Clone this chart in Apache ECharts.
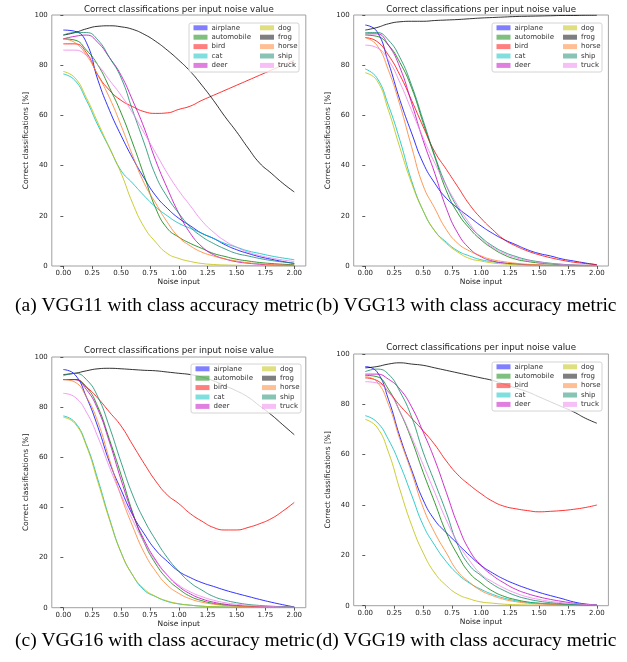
<!DOCTYPE html>
<html><head><meta charset="utf-8">
<script src="https://cdn.jsdelivr.net/npm/echarts@6/dist/echarts.min.js"></script>
<style>html,body{margin:0;padding:0;background:#fff}#c{width:627px;height:662px}</style>
</head><body><div id="c"></div>
<script>
// ---- data ----
const noise = [0,0.1,0.2,0.3,0.4,0.5,0.6,0.7,0.8,0.9,1.0,1.1,1.2,1.3,1.4,1.5,1.6,1.7,1.8,1.9,2.0];
const xTicks = [0,0.25,0.5,0.75,1.0,1.25,1.5,1.75,2.0];
const classes = ['airplane','automobile','bird','cat','deer','dog','frog','horse','ship','truck'];
const chartTitle = 'Correct classifications per input noise value';
const xName = 'Noise input';
const yName = 'Correct classifications [%]';
const captions = ['(a) VGG11 with class accuracy metric','(b) VGG13 with class accuracy metric','(c) VGG16 with class accuracy metric','(d) VGG19 with class accuracy metric'];

// VGG11
const vgg11_airplane   = [94,93.5,89,74,62,52,43,35,28,23,19,16,13,11,8.5,6.5,5,3.7,2.7,1.8,1];
const vgg11_automobile = [90.5,90,86,80,71,61,49,36,23,15,11.5,9,7,5,3.8,2.7,2,1.4,1,0.7,0.5];
const vgg11_bird       = [88.5,88.5,85,76,70,66,63.5,61.5,60.8,61,62.4,63.7,66,68,70,72,74,76,78,80,82];
const vgg11_cat        = [76.5,74,66,56,47,38,33,28,23.5,20,17,15,13,11,9,7.5,6,5,4,3.2,2.5];
const vgg11_deer       = [90.5,91.5,92,89,83,76,66,55,42,31,21,13,7.7,4.5,2.8,1.7,1.1,0.7,0.4,0.3,0.2];
const vgg11_dog        = [77.5,75,67,57,47,37,25,15.5,9.5,5,3,1.8,1,0.6,0.4,0.3,0.2,0.2,0.1,0.1,0.1];
const vgg11_frog       = [92,93,94.5,95.5,95.7,95.3,94.3,92.3,89.5,86,82,77.5,72,66,59.5,53.5,47,41,37,33,29.5];
const vgg11_horse      = [90.5,89,84,76,67,56,44,33,25,17.5,11.5,8,5.5,4,2.8,2,1.3,0.9,0.6,0.4,0.3];
const vgg11_ship       = [92,93,93,90,83,75,62,49,36,27.5,21,15.5,11.7,9,6.8,5,4,3,2.2,1.6,1.1];
const vgg11_truck      = [86,86,84,80,74,68,61,53,45,37,30,24,18,13.5,10,7.5,5.5,4.2,3.2,2.4,1.8];
// VGG13
const vgg13_airplane   = [96,93.5,81,66,53,41,33,27,23,19.5,16,13,10.5,8.5,6.5,5,4,2.8,2,1.2,0.5];
const vgg13_automobile = [92,91.5,88,81,71,57,43.5,30,21,15,10.4,7,4.4,2.7,1.8,1.2,0.8,0.5,0.3,0.2,0.2];
const vgg13_bird       = [91,89.5,84,76,66,55.5,45.5,38.5,31.5,24.5,19,14.5,10.5,8,6,4.5,3.3,2.3,1.5,1,0.5];
const vgg13_cat        = [78.5,75,64,50,34,22,14,9.5,6,4,2.5,1.7,1.1,0.8,0.5,0.4,0.3,0.2,0.2,0.1,0.1];
const vgg13_deer       = [92.5,92.5,88,79,65,50,37,23,13,7,3.7,2,1.2,0.8,0.5,0.3,0.2,0.2,0.1,0.1,0.1];
const vgg13_dog        = [77,74,62,47,33,22,14,9,5.5,3,2,1.2,0.8,0.5,0.3,0.2,0.2,0.1,0.1,0.1,0.1];
const vgg13_frog       = [94,95,96.5,97.3,97.5,97.5,97.8,98,98.2,98.5,98.8,99,99.2,99.4,99.5,99.6,99.7,99.8,99.8,99.9,99.9];
const vgg13_horse      = [91,88,78,64,47.5,32,23,14.5,9,6,4,2.5,1.7,1.1,0.7,0.5,0.3,0.2,0.2,0.1,0.1];
const vgg13_ship       = [93,93,90,83,72,58,44,32,23,16,11.5,8,5.5,3.8,2.5,1.7,1.1,0.7,0.4,0.3,0.2];
const vgg13_truck      = [88,87,82,73,62,51,41,32,24,17,11,7.5,5,3.3,2.2,1.5,1,0.6,0.4,0.3,0.2];
// VGG16
const vgg16_airplane   = [95,93,84,72,58,47,37,29.5,23,18.5,14.5,12,10,8.5,7,5.7,4.5,3.3,2.2,1.2,0.3];
const vgg16_automobile = [91,91,88,80,67,53,38,26,17.5,11.5,7.5,4.5,2.8,1.7,1.1,0.7,0.5,0.3,0.2,0.2,0.1];
const vgg16_bird       = [91,91,88,83.5,78,72.5,65,57.5,50.5,45,41.5,37.5,34.5,32,31,31,32,33.5,35.5,38.5,42];
const vgg16_cat        = [76.5,74,65,51,35.5,22,13,7,4.4,2.5,1.5,1,0.6,0.4,0.3,0.2,0.1,0.1,0.1,0.1,0.1];
const vgg16_deer       = [91,91,87,79,66,51,37.5,27,19,13,8.5,5.5,3.5,2.2,1.4,0.9,0.6,0.4,0.3,0.2,0.1];
const vgg16_dog        = [76,73.5,64.5,50,35,22,13,7.5,4.5,2.7,1.6,1,0.6,0.4,0.3,0.2,0.1,0.1,0.1,0.1,0.1];
const vgg16_frog       = [93,93.5,94.5,95.3,95.5,95.3,95,94.7,94.5,94,93.5,93,92,90.5,88.5,86.5,84,80.5,77,73,69];
const vgg16_horse      = [91,90,84,74,59,44.5,32.5,22,14.5,9,5.7,3.5,2.2,1.4,0.9,0.6,0.4,0.3,0.2,0.2,0.1];
const vgg16_ship       = [92.5,93.5,91,84,72,58,45,35,27,20,14.5,10,7,4.5,3,2,1.3,0.9,0.6,0.4,0.2];
const vgg16_truck      = [85.5,84,78,68,56,45,35,26,18.5,13,9,6.3,4.4,3,2,1.4,1,0.7,0.5,0.3,0.2];
// VGG19
const vgg19_airplane   = [95,93,82,67,54,42,34,29,24.5,20,16,13,10.5,8.5,6.8,5.3,4,2.8,1.5,0.7,0.3];
const vgg19_automobile = [91.5,91,86,77,66,53,41,29,20,13,9,5.8,3.7,2.4,1.5,1,0.7,0.5,0.3,0.2,0.2];
const vgg19_bird       = [90.5,89.5,85,79.5,74.5,69.5,64,57.5,52,48,44.5,41.5,39.5,38.5,37.8,37.3,37.5,37.8,38.3,39,40];
const vgg19_cat        = [75.5,73,66,56,44,32,24,17.5,12.5,9,6.5,4.5,3,2,1.3,0.9,0.6,0.4,0.3,0.2,0.1];
const vgg19_deer       = [92,92,90,86,79,69,58,45,32,22,16,12,9,6.5,4.8,3.5,2.5,1.7,1,0.5,0.3];
const vgg19_dog        = [74,71,61,46,32,21,13,8,4.5,2.7,1.5,1,0.6,0.4,0.3,0.2,0.1,0.1,0.1,0.1,0.1];
const vgg19_frog       = [94.5,95,96,96.5,96,95.5,94.5,93.5,92.5,91.5,90.5,89.5,88,86.5,85,83,81,79,77,74.5,72.5];
const vgg19_horse      = [91,89,80,66,53,39,29,21,13.5,9.3,6,4,2.5,1.6,1,0.7,0.5,0.3,0.2,0.2,0.1];
const vgg19_ship       = [93,94,92,85,75,61,49,37,24,16,12,8.5,6,4,2.7,1.8,1.2,0.8,0.5,0.3,0.2];
const vgg19_truck      = [89,88.5,85,77,67,56,45,34,25,18,12.5,9.5,7,5,3.5,2.5,1.7,1.2,0.8,0.5,0.3];

// ---- styles / layout ----
const colors = ['#0000ff','#008000','#ff0000','#00bfbf','#bf00bf','#bfbf00','#000000','#ff7f2a','#128a6a','#ee82ee'];
const panelData = [
  [vgg11_airplane,vgg11_automobile,vgg11_bird,vgg11_cat,vgg11_deer,vgg11_dog,vgg11_frog,vgg11_horse,vgg11_ship,vgg11_truck],
  [vgg13_airplane,vgg13_automobile,vgg13_bird,vgg13_cat,vgg13_deer,vgg13_dog,vgg13_frog,vgg13_horse,vgg13_ship,vgg13_truck],
  [vgg16_airplane,vgg16_automobile,vgg16_bird,vgg16_cat,vgg16_deer,vgg16_dog,vgg16_frog,vgg16_horse,vgg16_ship,vgg16_truck],
  [vgg19_airplane,vgg19_automobile,vgg19_bird,vgg19_cat,vgg19_deer,vgg19_dog,vgg19_frog,vgg19_horse,vgg19_ship,vgg19_truck]
];
const layout = [
  {left:51.8, top:15,  width:254,   height:251,   titleY:10.5,  boxX:189, boxY:23,  capX:15,  capY:307},
  {left:353.7,top:15,  width:254.7, height:251,   titleY:10.5,  boxX:492, boxY:23,  capX:316, capY:307},
  {left:51.8, top:357, width:254,   height:250.7, titleY:352.2, boxX:191, boxY:364, capX:15,  capY:642},
  {left:353.7,top:354, width:254.7, height:251.7, titleY:349.2, boxX:492, boxY:362, capX:316, capY:642}
];
const FONT = 'DejaVu Sans';
const txt = '#222';

const grid = [], xAxis = [], yAxis = [], series = [], title = [], legend = [], graphic = [];
layout.forEach((L, i) => {
  grid.push({left:L.left, top:L.top, width:L.width, height:L.height, show:true, borderColor:'#a0a0a0', borderWidth:1, backgroundColor:'#fff', containLabel:false});
  xAxis.push({gridIndex:i, type:'value', min:-0.1, max:2.1,
    name:xName, nameLocation:'middle', nameGap:12,
    nameTextStyle:{fontSize:7.5, color:txt, fontFamily:FONT},
    axisLine:{show:false}, splitLine:{show:false},
    axisTick:{show:true, length:3, customValues:xTicks, lineStyle:{color:'#333', width:0.8}},
    axisLabel:{customValues:xTicks, formatter:v => v.toFixed(2), fontSize:7, color:txt, fontFamily:FONT, margin:4}
  });
  yAxis.push({gridIndex:i, type:'value', min:0, max:100, interval:20,
    name:yName, nameLocation:'middle', nameGap:16, nameRotate:90,
    nameTextStyle:{fontSize:7.5, color:txt, fontFamily:FONT},
    axisLine:{show:false}, splitLine:{show:false},
    axisTick:{show:true, length:3, lineStyle:{color:'#333', width:0.8}},
    axisLabel:{fontSize:7, color:txt, fontFamily:FONT, margin:4}
  });
  panelData[i].forEach((arr, j) => {
    series.push({type:'line', name:classes[j], xAxisIndex:i, yAxisIndex:i,
      data: noise.map((x, k) => [x, arr[k]]),
      symbol:'none', smooth:0.5, silent:true,
      lineStyle:{width:1, color:colors[j], opacity:0.8},
      itemStyle:{color:colors[j]}, z:2
    });
  });
  title.push({text:chartTitle, left:L.left + L.width/2, top:L.titleY - 5.5, textAlign:'center', padding:0,
    textStyle:{fontSize:8.7, fontWeight:'normal', color:txt, fontFamily:FONT}});
  title.push({text:captions[i], left:L.capX, top:L.capY - 11, padding:0,
    textStyle:{fontSize:19.5, fontWeight:'normal', color:'#000', fontFamily:'Liberation Serif'}});
  graphic.push({type:'rect', z:10, shape:{x:L.boxX, y:L.boxY, width:110, height:49, r:2},
    style:{fill:'rgba(255,255,255,0.8)', stroke:'#d4d4d4', lineWidth:1}});
  [0, 1].forEach(c => {
    legend.push({data: classes.slice(c*5, c*5+5), orient:'vertical',
      left: L.boxX + (c === 0 ? 4.5 : 71), top: L.boxY + 0.3,
      itemWidth:14, itemHeight:5, itemGap:0.4, icon:'rect', padding:0,
      selectedMode:false, z:20,
      itemStyle:{opacity:0.5, borderWidth:0},
      textStyle:{fontSize:7, color:'#333', lineHeight:9, fontFamily:FONT, padding:[0,0,0,-1]}
    });
  });
});

const chart = echarts.init(document.getElementById('c'), null, {renderer:'canvas'});
chart.setOption({animation:false, backgroundColor:'#fff', grid, xAxis, yAxis, series, title, legend, graphic});
</script></body></html>
